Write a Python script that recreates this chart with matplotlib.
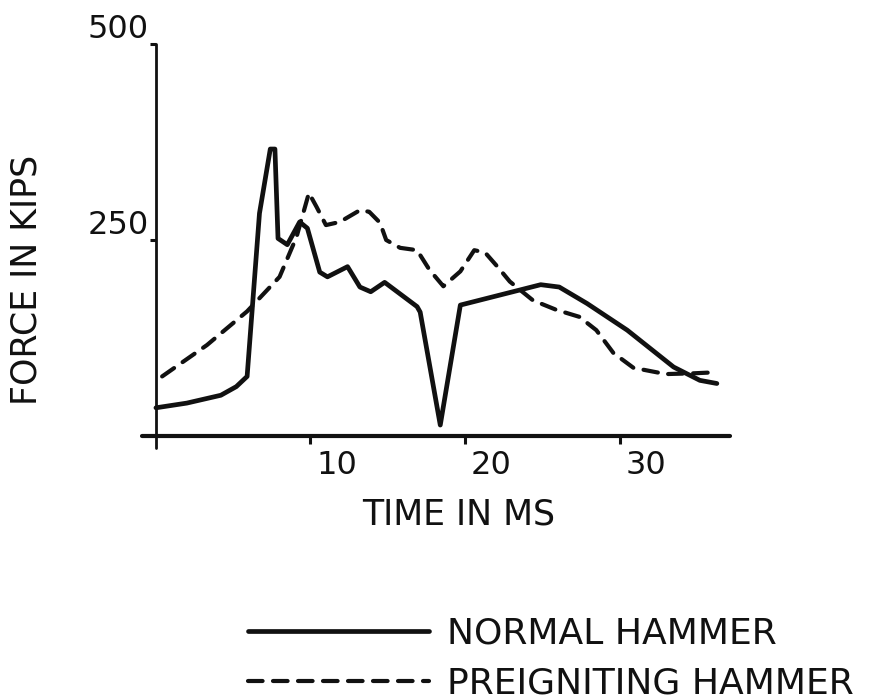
import matplotlib
matplotlib.use("Agg")
import matplotlib.pyplot as plt
from matplotlib.transforms import ScaledTranslation

# Hammer force records (time in ms, force in kips)
normal_t = [0.0, 2.0, 4.2, 5.2, 5.9, 6.7, 7.4, 7.7, 7.9, 8.5, 9.3, 9.8, 10.6, 11.1,
            12.4, 13.2, 13.9, 14.8, 16.9, 17.1, 18.4, 19.7, 24.9, 26.1, 27.9,
            30.5, 33.5, 35.2, 36.3]
normal_f = [36, 42, 52, 63, 76, 284, 366, 366, 252, 244, 273, 265, 209, 203,
            216, 190, 184, 196, 165, 158, 14, 167, 193, 190, 169,
            135, 88, 71, 67]

preig_t = [0.4, 3.3, 5.9, 8.0, 9.1, 9.9, 10.4, 11.0, 11.9, 13.2, 13.8, 14.5, 14.9,
           15.8, 16.9, 17.7, 18.6, 19.7, 20.6, 21.3, 22.1, 22.9, 24.4, 25.9,
           27.4, 28.5, 29.6, 30.9, 33.0, 34.8, 35.9]
preig_f = [76, 116, 159, 203, 254, 310, 292, 269, 273, 288, 286, 272, 250,
           240, 237, 212, 191, 210, 237, 234, 216, 197, 173, 161,
           152, 135, 106, 87, 79, 80, 81]

x_ticks = [10, 20, 30]
x_tick_labels = ["10", "20", "30"]
y_ticks = [250, 500]
y_tick_labels = ["250", "500"]

series_labels = ["NORMAL HAMMER", "PREIGNITING HAMMER"]
x_label = "TIME IN MS"
y_label = "FORCE IN KIPS"

plt.rcParams["font.family"] = ["DejaVu Sans"]
ink = "#111111"

fig = plt.figure(figsize=(8.73, 7.0), dpi=100)
ax = fig.add_axes([0.1627, 0.3603, 0.6735, 0.5769])

ln_normal, = ax.plot(normal_t, normal_f, color=ink, lw=3.4,
                     solid_joinstyle="round", solid_capstyle="round",
                     label=series_labels[0])
ln_preig, = ax.plot(preig_t, preig_f, color=ink, lw=3.0, dashes=(3.5, 2.5),
                    dash_capstyle="round", dash_joinstyle="round",
                    label=series_labels[1])

ax.set_xlim(-0.9, 37.15)
ax.set_ylim(-15, 500)

for side in ("top", "right"):
    ax.spines[side].set_visible(False)
ax.spines["left"].set_position(("data", 0))
ax.spines["bottom"].set_position(("data", 0))
ax.spines["left"].set_linewidth(2.0)
ax.spines["bottom"].set_linewidth(3.0)
ax.spines["left"].set_color(ink)
ax.spines["bottom"].set_color(ink)
ax.spines["left"].set_capstyle("round")
ax.spines["bottom"].set_capstyle("round")

ax.set_xticks(x_ticks, labels=x_tick_labels)
ax.set_yticks(y_ticks, labels=y_tick_labels)
ax.tick_params(axis="x", direction="out", length=6, width=2.2, color=ink,
               pad=4, labelsize=23, labelcolor=ink)
ax.tick_params(axis="y", direction="out", length=4, width=2.2, color=ink,
               pad=1, labelsize=23, labelcolor=ink)

x_shift = ScaledTranslation(6 / 100, 0, fig.dpi_scale_trans)
for lab in ax.get_xticklabels():
    lab.set_ha("left")
    lab.set_transform(lab.get_transform() + x_shift)
y_shift = ScaledTranslation(0, -1 / 100, fig.dpi_scale_trans)
for lab in ax.get_yticklabels():
    lab.set_va("bottom")
    lab.set_transform(lab.get_transform() + y_shift)

ax.set_xlabel(x_label, fontsize=25, color=ink, va="baseline")
ax.xaxis.set_label_coords(0.538, -0.191)
ax.set_ylabel(y_label, fontsize=25, color=ink, va="center")
ax.yaxis.set_label_coords(-0.197, 0.4155)

fig.legend(handles=[ln_normal, ln_preig], labels=series_labels,
           loc="upper left", bbox_to_anchor=(248 / 873, 1 - 617 / 700),
           frameon=False, fontsize=26, handlelength=5.0, handletextpad=0.5,
           labelspacing=0.42, borderpad=0, borderaxespad=0,
           labelcolor=ink)

fig.savefig("out.png", dpi=100, facecolor="white")
